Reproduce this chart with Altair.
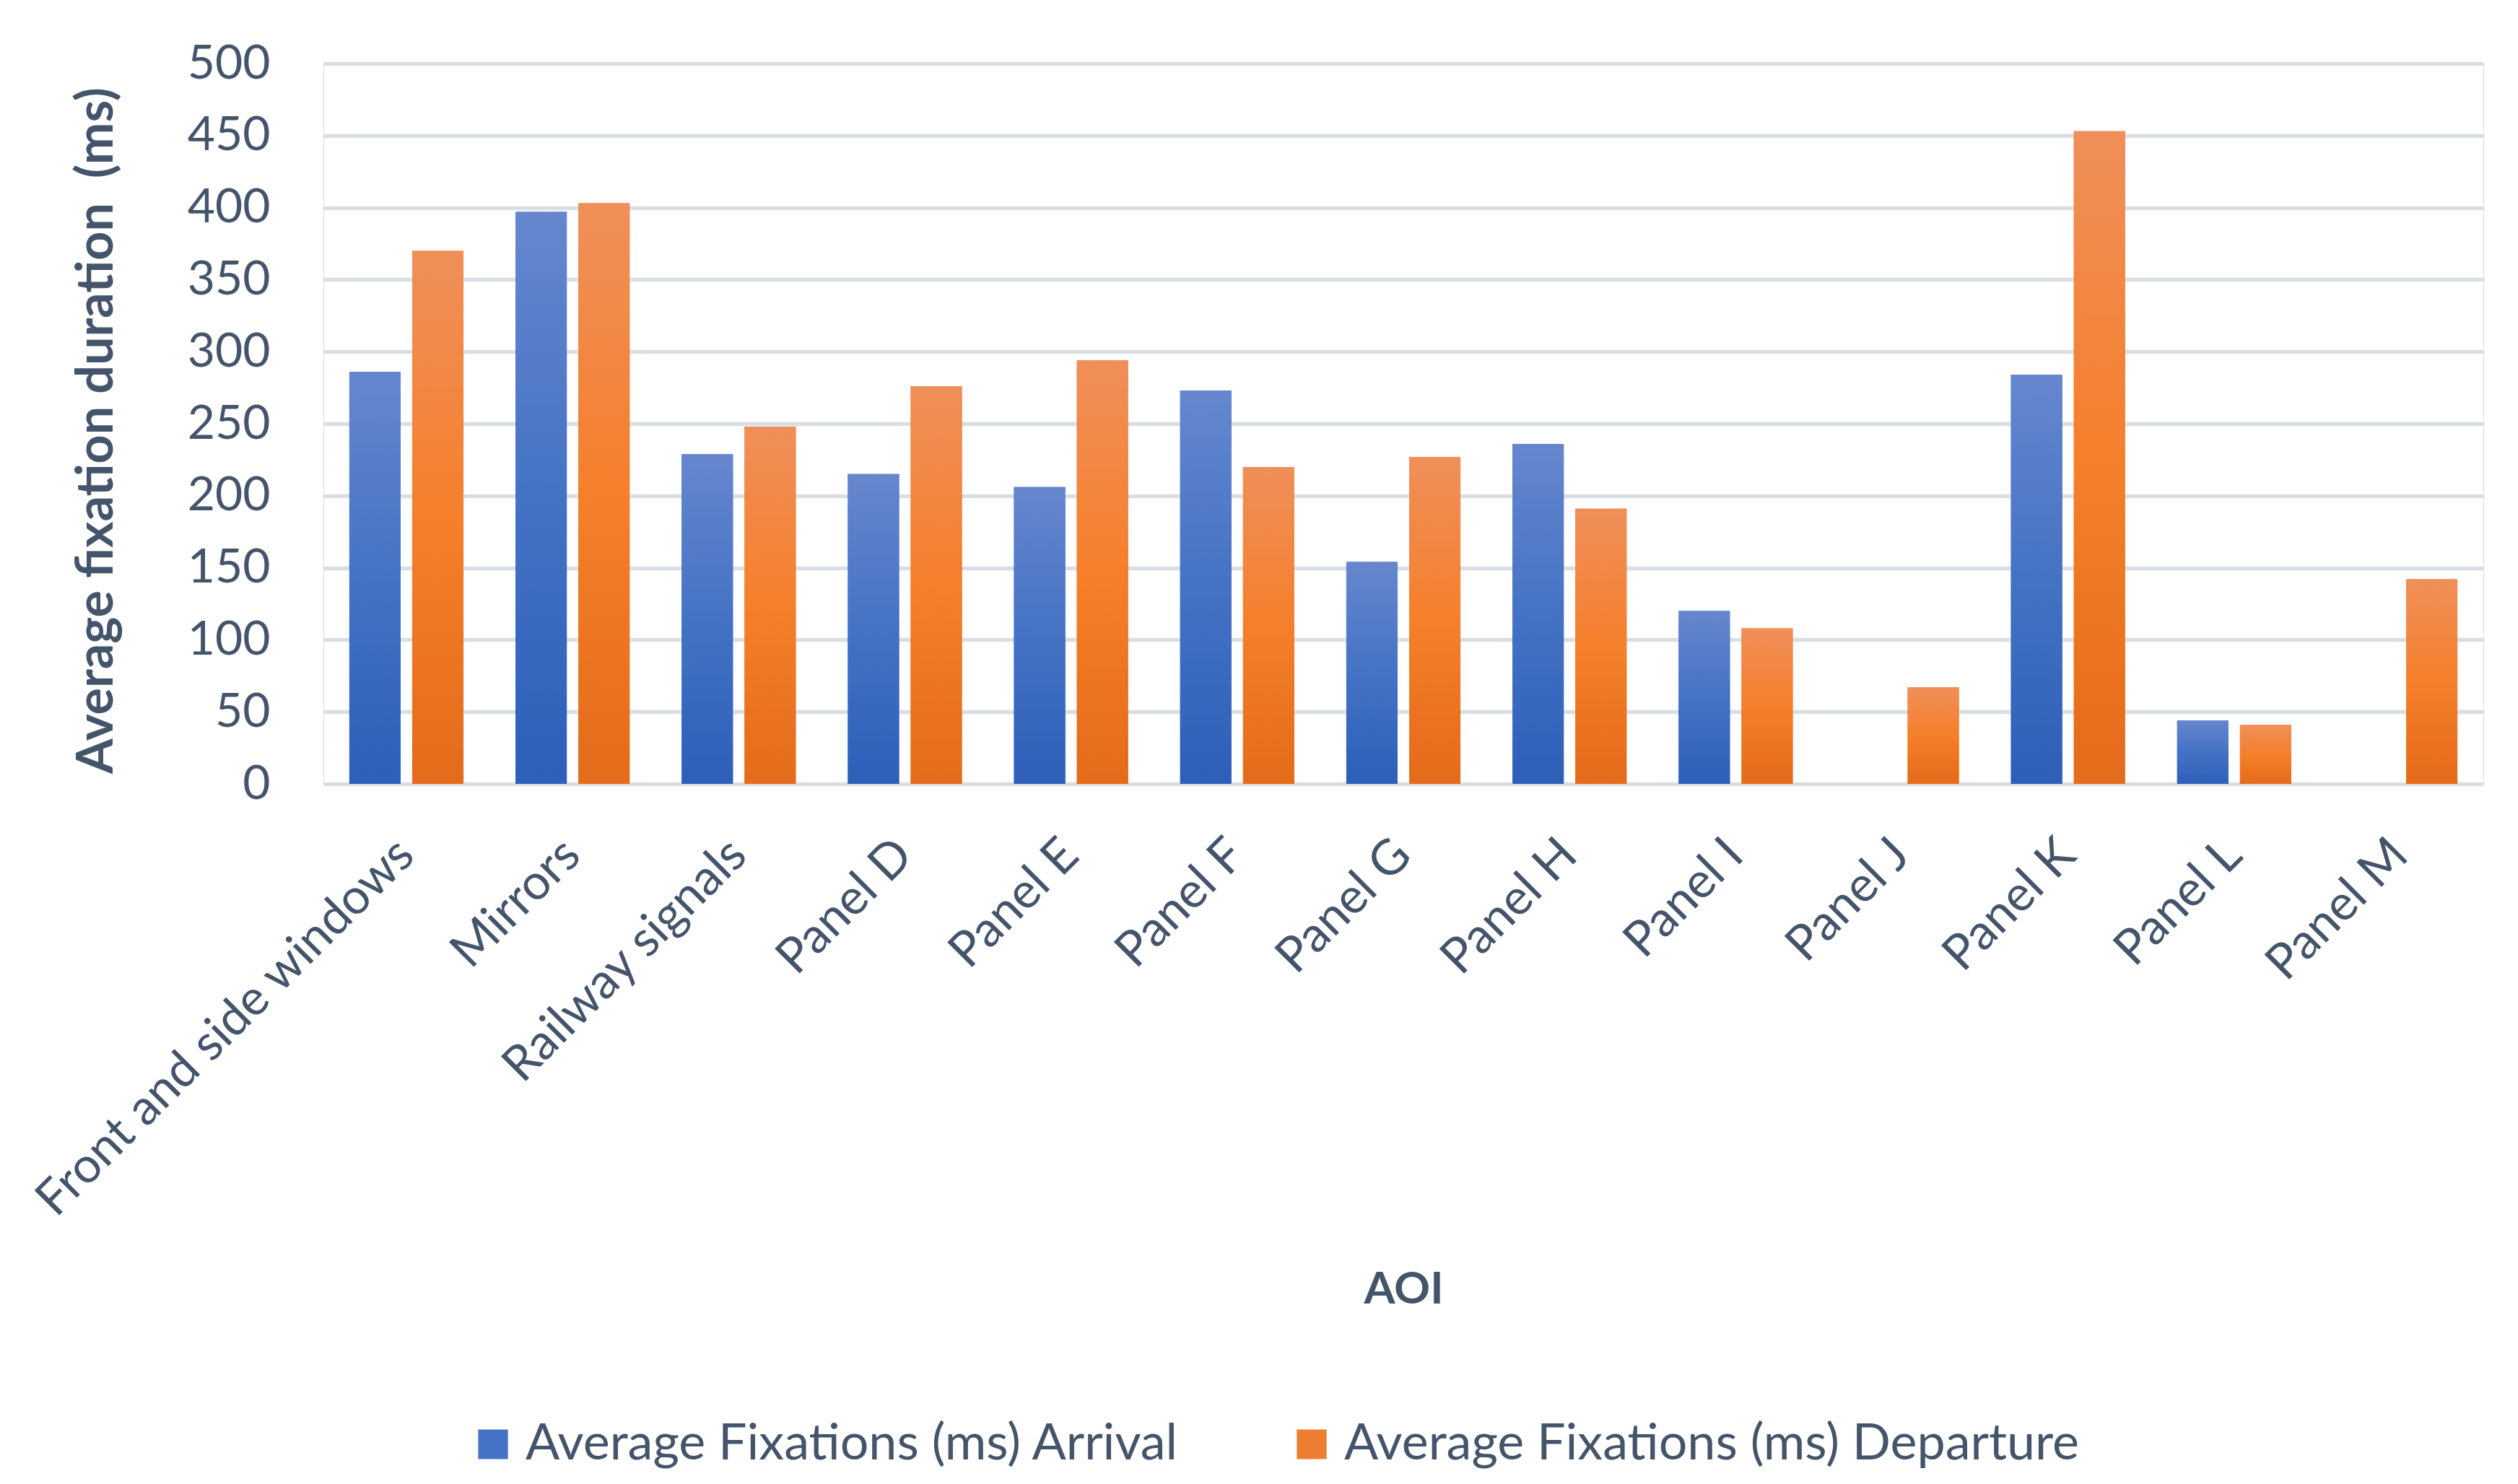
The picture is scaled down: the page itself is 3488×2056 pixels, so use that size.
import altair as alt
import pandas as pd

categories = ["Front and side windows", "Mirrors", "Railway signals", "Panel D", "Panel E",
              "Panel F", "Panel G", "Panel H", "Panel I", "Panel J", "Panel K", "Panel L", "Panel M"]
arrival = [286, 397, 229, 215, 206, 273, 154, 236, 120, 0, 284, 44, 0]
departure = [370, 403, 248, 276, 294, 220, 227, 191, 108, 67, 453, 41, 142]
series_names = ["Average Fixations (ms) Arrival", "Average Fixations (ms) Departure"]
y_ticks = [0, 50, 100, 150, 200, 250, 300, 350, 400, 450, 500]

rows = []
for c, a, d in zip(categories, arrival, departure):
    rows.append({"AOI": c, "series": series_names[0], "value": a})
    rows.append({"AOI": c, "series": series_names[1], "value": d})
df = pd.DataFrame(rows)

FONT = "Lato"
TXT = "#44546A"

blue_grad = alt.Gradient(gradient="linear", x1=0, x2=0, y1=0, y2=1, stops=[
    alt.GradientStop(color="#6687CE", offset=0),
    alt.GradientStop(color="#4472C4", offset=0.5),
    alt.GradientStop(color="#2D5FB9", offset=1),
])
orange_grad = alt.Gradient(gradient="linear", x1=0, x2=0, y1=0, y2=1, stops=[
    alt.GradientStop(color="#F08F5A", offset=0),
    alt.GradientStop(color="#F57F2B", offset=0.5),
    alt.GradientStop(color="#E46B19", offset=1),
])

x_enc = alt.X("AOI:N", sort=categories,
              scale=alt.Scale(paddingInner=0.313, paddingOuter=0.156),
              axis=alt.Axis(title="AOI", labelAngle=-45, labelAlign="right", labelBaseline="middle",
                            labelPadding=88, tickSize=0, domain=False, grid=False,
                            labelFontSize=68, labelColor=TXT, labelFont=FONT,
                            titleFontSize=62, titleFontWeight="bold", titleColor=TXT, titleFont=FONT,
                            titleY=700, titleBaseline="middle", labelLimit=2000))
y_enc = alt.Y("value:Q", scale=alt.Scale(domain=[0, 500], nice=False),
              axis=alt.Axis(title="Average fixation duration\u00a0\u00a0(ms)", values=y_ticks,
                            tickSize=0, domain=False, grid=True, gridColor="#D9DEE6", gridWidth=5.5,
                            labelPadding=74, labelFontSize=66, labelColor=TXT, labelFont=FONT,
                            titleFontSize=70, titleFontWeight="bold", titleColor=TXT, titleFont=FONT,
                            titleX=-314, titleY=508, titleAlign="center", titleBaseline="middle",
                            titleAngle=-90))
off_enc = alt.XOffset("series:N", scale=alt.Scale(domain=series_names, paddingInner=0.184))

base = alt.Chart(df)

legend_layer = base.mark_bar().encode(
    x=x_enc, y=y_enc, xOffset=off_enc,
    color=alt.Color("series:N", scale=alt.Scale(domain=series_names, range=["#4472C4", "#ED7D31"]),
                    legend=alt.Legend(title=None, orient="none", direction="horizontal",
                                      legendX=200, legendY=1878, symbolType="square",
                                      symbolSize=1700, symbolStrokeWidth=0, labelFontSize=70,
                                      labelColor=TXT, labelFont=FONT, labelOffset=10,
                                      columnPadding=148, labelLimit=2000)),
)

arr_layer = base.transform_filter(alt.datum.series == series_names[0]).mark_bar(fill=blue_grad).encode(
    x=x_enc, y=y_enc, xOffset=off_enc)
dep_layer = base.transform_filter(alt.datum.series == series_names[1]).mark_bar(fill=orange_grad).encode(
    x=x_enc, y=y_enc, xOffset=off_enc)

chart = alt.layer(legend_layer, arr_layer, dep_layer).properties(
    width=2992, height=998,
    autosize=alt.AutoSizeParams(type="none"),
    padding={"left": 440, "top": 80, "right": 40, "bottom": 962},
).configure_view(stroke=None).configure(background="white")

chart.save("out.html", embed_options={"renderer": "svg", "actions": False})
